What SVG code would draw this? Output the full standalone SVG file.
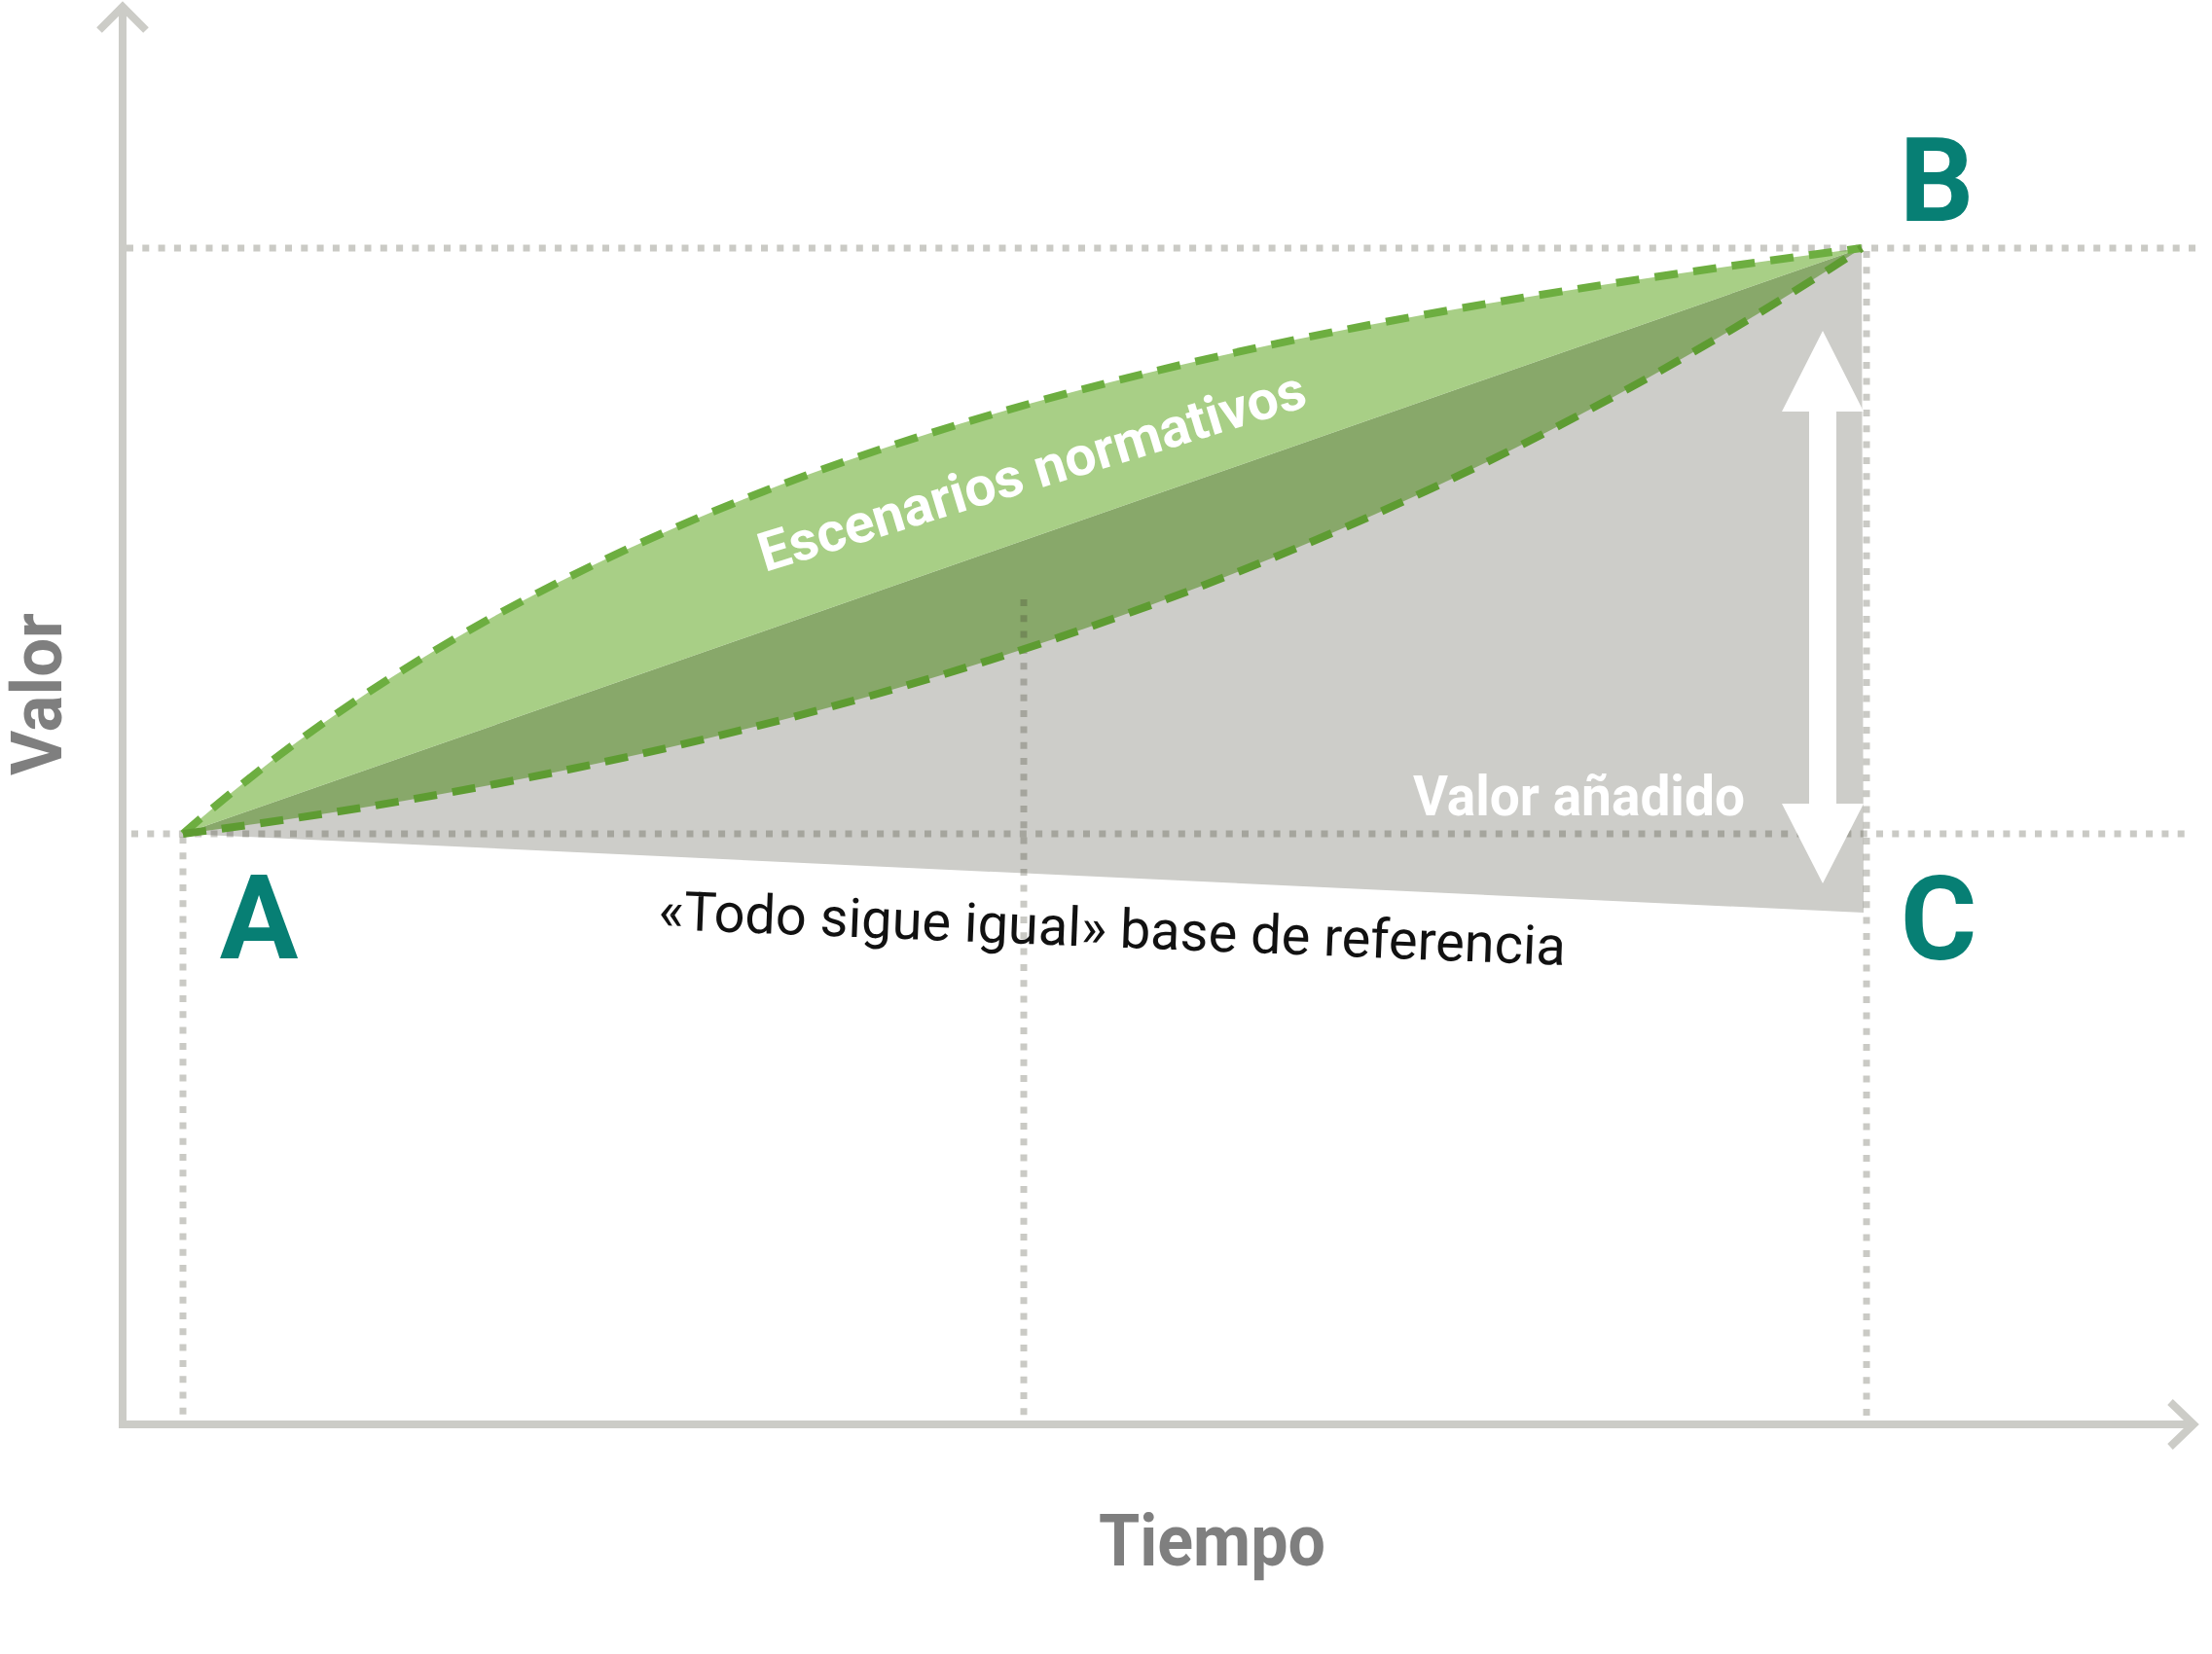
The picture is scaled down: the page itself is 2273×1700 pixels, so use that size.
<svg xmlns="http://www.w3.org/2000/svg" width="2273" height="1700" viewBox="0 0 2273 1700">
  <style>
    .axis { fill: none; stroke: #CCCCC7; stroke-width: 8; stroke-linejoin: miter; }
    .dot { fill: none; stroke: rgb(60,60,40); stroke-opacity: 0.27; stroke-width: 7; stroke-dasharray: 7 9.3; }
    .up { fill: none; stroke: #6DAE40; stroke-width: 8; stroke-dasharray: 24 16; }
    .lo { fill: none; stroke: #5E9C32; stroke-width: 8; stroke-dasharray: 24 16; }
    .pt { font-family: Roboto, "Liberation Sans", sans-serif; font-weight: bold; font-size: 120px; fill: #077F74; text-anchor: middle; }
    .axlab { font-family: Roboto, "Liberation Sans", sans-serif; font-weight: bold; fill: #7F7F7F; }
    .wlab { font-family: Roboto, "Liberation Sans", sans-serif; font-weight: bold; fill: #FFFFFF; }
  </style>
  <rect width="2273" height="1700" fill="#FFFFFF"/>

  <g id="areas">
    <polygon id="gray-area" points="188,857 1913,255 1915,938" fill="#CDCDC9"/>
    <path id="dark-green" d="M188,857 C900,765 1450,560 1913,255 L188,857 Z" fill="#88A86A"/>
    <path id="light-green" d="M188,857 C655,445 1313,335 1913,255 L188,857 Z" fill="#A8CF86"/>
  </g>

  <g id="grid">
    <line class="dot" x1="130" y1="255" x2="2257" y2="255"/>
    <line class="dot" x1="135" y1="857" x2="2254" y2="857"/>
    <line class="dot" x1="188" y1="860" x2="188" y2="1462"/>
    <line class="dot" x1="1052" y1="616" x2="1052" y2="1462"/>
    <line class="dot" x1="1918" y1="258" x2="1918" y2="1462"/>
  </g>

  <g id="axes">
    <path class="axis" d="M126,8 V1464 H2254"/>
    <polyline class="axis" points="102,31 126,7 150,31"/>
    <polyline class="axis" points="2230,1441 2254,1464 2230,1487"/>
  </g>

  <g id="connectors">
    <path class="up" d="M188,857 C655,445 1313,335 1913,255"/>
    <path class="lo" d="M188,857 C900,765 1450,560 1913,255"/>
    <polygon id="value-arrow" points="1873,340 1915,423 1887,423 1887,826 1915,826 1873,908 1831,826 1859,826 1859,423 1831,423" fill="#FFFFFF"/>
  </g>

  <g id="node-A"><text class="pt" x="266" y="985">A</text></g>
  <g id="node-B"><text class="pt" x="1990" y="227">B</text></g>
  <g id="node-C"><text class="pt" x="1992" y="986">C</text></g>

  <g id="label-escenarios">
    <text class="wlab" font-size="56" transform="translate(786,588) rotate(-17)" textLength="585" lengthAdjust="spacingAndGlyphs">Escenarios normativos</text>
  </g>
  <g id="label-valor-anadido">
    <text class="wlab" font-size="57" x="1452" y="838" textLength="341" lengthAdjust="spacingAndGlyphs">Valor añadido</text>
  </g>
  <g id="label-baseline">
    <text font-family="Roboto, 'Liberation Sans', sans-serif" font-size="56" fill="#111111" transform="translate(676,955) rotate(2.27)" textLength="933" lengthAdjust="spacingAndGlyphs">«Todo sigue igual» base de referencia</text>
  </g>
  <g id="label-tiempo">
    <text class="axlab" font-size="75" x="1129" y="1609" textLength="233" lengthAdjust="spacingAndGlyphs">Tiempo</text>
  </g>
  <g id="label-valor">
    <text class="axlab" font-size="72" transform="translate(63,797) rotate(-90)" textLength="167" lengthAdjust="spacingAndGlyphs">Valor</text>
  </g>
</svg>
